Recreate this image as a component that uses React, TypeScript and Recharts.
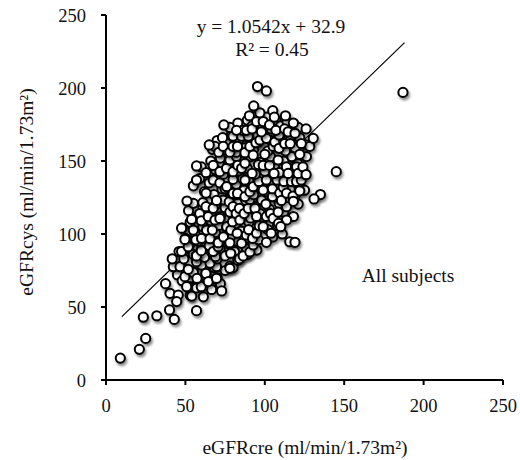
import { ScatterChart, Scatter, XAxis, YAxis, ReferenceLine } from "recharts"

// regression line reported on the chart
const SLOPE = 1.0542
const INTERCEPT = 32.9
const FIT_FROM = 10
const FIT_TO = 188
const TICKS = [0, 50, 100, 150, 200, 250]

type Pt = [number, number] // [eGFRcre, eGFRcys]

const lowTail: Pt[] = [
  [9, 15], [21, 21], [25, 28.5], [23.5, 43], [32, 44], [40, 48], [43, 41.5],
  [40.3, 59.4], [45.5, 58.2], [53, 58], [57, 47.5], [37.5, 66], [41.7, 83],
  [61.3, 57], [66.5, 62], [72.8, 61], [54, 57.5], [57, 63], [44.5, 53.7],
  [50.8, 63.9], [60, 63.9], [64.4, 67.4], [57.3, 69.6], [69.6, 69.6],
]

const outliers: Pt[] = [
  [145, 142.7], [187, 197], [135, 127], [131, 124], [95.4, 201], [101, 198],
  [93, 187.7], [105, 184.5], [106, 180], [113, 181], [118, 176], [126, 172],
  [130.5, 165.5], [74.2, 174.7], [65, 161], [57, 146.6], [57, 137], [51, 122.6],
  [47.6, 104], [115.7, 94.7], [119, 94.3], [101, 94.3], [108.6, 107.3], [110, 105],
  [126, 140.6], [121, 120.5], [118, 122.4], [123, 162], [122, 154.6],
]

const band60: Pt[] = [
  [45, 72], [48, 68], [50, 76], [53, 70], [55, 74], [58, 67], [60, 79], [63, 73],
  [65, 68], [68, 77], [70, 70], [72, 66], [75, 75], [78, 78], [52, 64], [62, 65],
  [42.4, 77.6], [46.6, 77.6], [49.7, 70.8], [55, 73.7], [60.2, 78.8], [62.9, 73],
  [69.6, 77.6], [80, 77], [78, 76.5], [83, 82], [65.5, 80], [51.8, 75.8],
]

const band80: Pt[] = [
  [46, 88], [49, 83], [52, 91], [55, 86], [57, 81], [60, 89], [62, 84], [65, 92],
  [67, 87], [70, 83], [72, 90], [75, 85], [78, 93], [81, 88], [84, 83], [86, 91],
  [89, 86], [92, 93], [95, 89], [83, 95], [47.6, 88], [51.8, 91.3], [56.7, 85.1],
  [57, 85], [60, 88.6], [69, 84.5], [67.5, 88], [78.5, 86.8], [88.4, 90], [86.4, 85],
  [90.6, 87.7], [92.7, 92.5], [70.7, 91.3],
]

const band95: Pt[] = [
  [48, 104], [50, 97], [53, 108], [56, 100], [58, 95], [61, 105], [64, 99], [66, 109],
  [69, 101], [71, 106], [74, 97], [76, 104], [79, 99], [82, 107], [85, 102], [87, 96],
  [90, 108], [93, 101], [96, 96], [98, 109], [102, 103], [105, 98], [108, 106], [111, 100],
  [49.7, 96.3], [55, 102.7], [56.6, 96], [60.2, 97], [63.3, 102.7], [65.5, 96.8], [67, 102.7],
  [70.7, 94], [74, 98], [76, 105], [78, 94], [78.6, 102.7], [82.6, 100.5], [85.4, 93.6],
  [88.4, 99.3], [89.8, 103], [92.3, 97], [94.8, 100.5], [96.5, 105.7], [99, 105], [104, 100.5],
]

const band110: Pt[] = [
  [52, 116], [55, 121], [58, 112], [61, 118], [64, 123], [66, 114], [69, 120], [72, 112],
  [75, 118], [77, 124], [80, 113], [83, 121], [86, 115], [88, 123], [91, 111], [94, 119],
  [97, 114], [100, 124], [103, 117], [106, 112], [109, 121], [112, 115], [115, 122],
  [118, 112], [53.9, 110], [59, 114], [60, 109], [61, 121.5], [63, 118.7], [64.4, 111.9],
  [67.5, 117.6], [68.6, 109.6], [71.7, 110.7], [73.8, 123.3], [77.6, 122], [78, 115],
  [79.7, 108.4], [80, 118.7], [82, 114], [84, 117.6], [84.3, 109.6], [87, 114], [89.6, 117.6],
  [93.8, 117.6], [94.8, 112], [98, 123.3], [100.7, 120.5], [101, 112], [103.6, 114],
  [105.3, 110.7], [108.4, 115], [113.7, 118.7], [113.7, 109.6], [90.6, 123.7],
]

const band125: Pt[] = [
  [55, 133], [59, 138], [62, 129], [65, 135], [68, 127], [70, 139], [73, 131], [76, 137],
  [79, 128], [82, 134], [85, 139], [87, 130], [90, 136], [93, 127], [96, 133], [99, 139],
  [101, 129], [104, 135], [107, 126], [110, 132], [113, 138], [116, 131], [119, 126],
  [122, 134], [125, 130], [63, 128], [67.5, 137], [69.6, 123], [71.7, 135], [75, 131],
  [76, 132.4], [80, 127.8], [80, 137.4], [82.8, 127.8], [86, 138], [87.5, 125.6],
  [87.5, 137], [90.6, 129], [92.7, 132.4], [96.3, 136], [99, 130], [101, 137], [104.8, 125.6],
  [104.8, 131], [107.7, 137], [109.4, 128], [110.5, 123], [111.6, 132], [112, 136],
  [113.7, 128], [116.8, 136], [117.8, 126], [120, 136], [122, 129.6], [123, 137],
]

const band140: Pt[] = [
  [60, 146], [63, 142], [66, 150], [69, 144], [72, 152], [74, 141], [77, 148], [80, 154],
  [83, 143], [86, 150], [89, 145], [91, 153], [94, 141], [97, 149], [100, 143], [103, 151],
  [106, 146], [109, 142], [112, 150], [115, 145], [118, 152], [121, 148], [124, 143],
  [67.5, 147], [71.7, 142.7], [75.9, 145], [78, 150.7], [80, 142.7], [82.2, 153], [83, 147],
  [85.4, 145], [87.5, 148.4], [92, 141.5], [96, 147.5], [99, 147], [103, 147], [103.6, 153],
  [105.8, 141.5], [108.4, 150.7], [113.6, 146], [114.7, 141.5], [120, 146], [121, 141.5],
  [124, 146], [126.2, 153], [117, 153],
]

const band155: Pt[] = [
  [67, 158], [70, 164], [73, 157], [76, 162], [79, 168], [82, 156], [84, 165], [87, 159],
  [90, 166], [93, 158], [96, 163], [99, 169], [102, 157], [104, 164], [107, 160], [110, 168],
  [113, 157], [116, 164], [119, 159], [122, 166], [126, 161], [68.6, 160], [71, 156],
  [73.4, 166], [73.8, 160], [78, 156], [80, 160], [80, 167], [82.8, 160], [85.4, 167],
  [87.5, 155.7], [89.6, 167], [90.6, 160], [92.7, 154], [94.4, 162.5], [96.9, 164.4],
  [100, 154.6], [101, 165.5], [105.3, 160], [106.3, 163], [109, 158.7], [109, 167.8],
  [112.5, 162], [116, 162], [128.3, 160],
]

const band170: Pt[] = [
  [78, 173], [83, 176], [86, 171], [89, 178], [92, 174], [95, 181], [98, 175], [101, 180],
  [104, 172], [107, 178], [110, 174], [114, 177], [117, 171], [121, 173], [82.2, 171],
  [88.4, 171], [90.3, 181], [92, 172], [94.8, 177], [96.9, 183], [97.9, 170], [99, 177],
  [103, 174.7], [107, 171], [112.5, 172], [114.7, 170], [119, 169],
]

const points = [
  ...band60, ...band80, ...band95, ...band110, ...band125, ...band140, ...band155,
  ...band170, ...lowTail, ...outliers,
].map(([x, y]) => ({ x, y }))

const fitLine = [
  { x: FIT_FROM, y: SLOPE * FIT_FROM + INTERCEPT },
  { x: FIT_TO, y: SLOPE * FIT_TO + INTERCEPT },
]

const font = "'Liberation Serif', 'Times New Roman', serif"
const ink = "#111"

function OpenCircle(props: any) {
  return (
    <circle
      cx={props.cx}
      cy={props.cy}
      r={4.6}
      fill="#fff"
      stroke="#000"
      strokeWidth={2}
      filter="url(#ptShadow)"
    />
  )
}

export default function App() {
  return (
    <div style={{ width: 520, height: 460, position: "relative" }}>
      <style>{"body{margin:0}"}</style>
      <svg width={0} height={0} style={{ position: "absolute" }}>
        <defs>
          <filter id="ptShadow" x="-50%" y="-50%" width="200%" height="200%">
            <feDropShadow dx={1.5} dy={2.5} stdDeviation={1.3} floodColor="#000" floodOpacity={0.45} />
          </filter>
        </defs>
      </svg>
      <ScatterChart width={520} height={460} margin={{ top: 15, right: 17, bottom: 50, left: 0 }}>
        <XAxis
          type="number"
          dataKey="x"
          domain={[0, 250]}
          ticks={TICKS}
          height={30}
          axisLine={{ stroke: "#000", strokeWidth: 2 }}
          tickLine={{ stroke: "#000", strokeWidth: 2 }}
          tickSize={5}
          tickMargin={14}
          tick={{ fill: ink, fontSize: 18.5, fontFamily: font }}
        />
        <YAxis
          type="number"
          dataKey="y"
          domain={[0, 250]}
          ticks={TICKS}
          width={106}
          axisLine={{ stroke: "#000", strokeWidth: 2 }}
          tickLine={{ stroke: "#000", strokeWidth: 2 }}
          tickSize={5}
          tickMargin={15}
          tick={{ fill: ink, fontSize: 18.5, fontFamily: font }}
        />
        <Scatter data={points} shape={OpenCircle} isAnimationActive={false} />
        <ReferenceLine segment={fitLine} stroke="#000" strokeWidth={1.2} ifOverflow="visible" />
        <text x={271} y={33} textAnchor="middle" fontSize={19.5} fontFamily={font} fill={ink}>
          y = 1.0542x + 32.9
        </text>
        <text x={272} y={56} textAnchor="middle" fontSize={19.5} fontFamily={font} fill={ink}>
          R² = 0.45
        </text>
        <text x={408} y={282} textAnchor="middle" fontSize={19.5} fontFamily={font} fill={ink}>
          All subjects
        </text>
        <text x={305} y={454} textAnchor="middle" fontSize={19.5} fontFamily={font} fill={ink}>
          eGFRcre (ml/min/1.73m²)
        </text>
        <text
          x={33}
          y={192}
          textAnchor="middle"
          fontSize={19.5}
          fontFamily={font}
          fill={ink}
          transform="rotate(-90, 33, 192)"
        >
          eGFRcys (ml/min/1.73m²)
        </text>
      </ScatterChart>
    </div>
  )
}
